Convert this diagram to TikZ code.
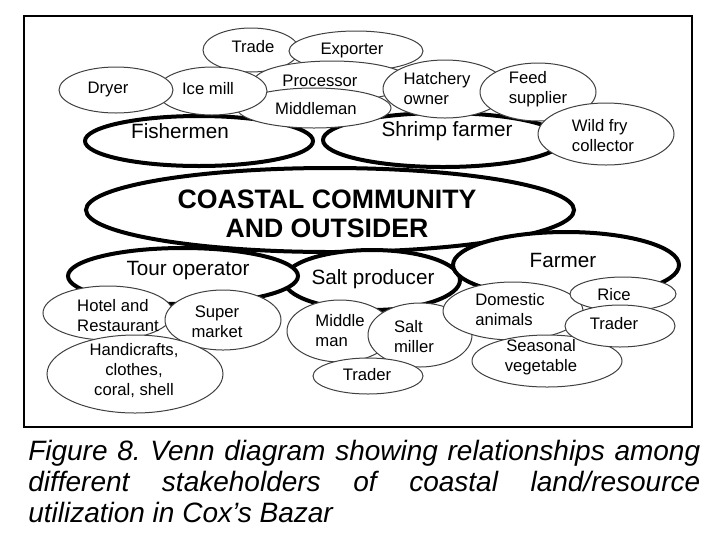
\documentclass[tikz,border=0pt]{standalone}
\usepackage{fontspec}
\setmainfont{Liberation Sans}
\frenchspacing

\begin{document}
\begin{tikzpicture}[x=0.75pt,y=0.75pt,yscale=-1,xscale=1,
  thickoval/.style={draw=black,fill=white,line width=3pt},
  thinoval/.style={draw=black!75,fill=white,line width=0.75pt},
  smalltext/.style={inner sep=0.75pt,font=\fontsize{12.5}{15}\selectfont},
  bigtext/.style={inner sep=0.75pt,font=\fontsize{15.5}{18}\selectfont}]
\useasboundingbox (0,0) rectangle (720,540);
%Shape: Rectangle [frame]
\draw [line width=1.5pt] (24,16) rectangle (692,427);

%Shape: Ellipse [coastal community]
\draw [thickoval] (330,210) ellipse (244 and 42);
%Shape: Ellipse [fishermen]
\draw [thickoval] (199,141) ellipse (114 and 25);
%Shape: Ellipse [shrimp farmer]
\draw [thickoval] (443,140) ellipse (120 and 27);
%Shape: Ellipse [salt producer]
\draw [thickoval] (372,280) ellipse (88 and 30);
%Shape: Ellipse [tour operator]
\draw [thickoval] (183,276) ellipse (115 and 28);
%Shape: Ellipse [farmer]
\draw [thickoval] (566,265) ellipse (113 and 33);

%Shape: Ellipse [fishermen group]
\draw [thinoval] (251,50) ellipse (48 and 22);
\draw [thinoval] (356,51) ellipse (67 and 20);
\draw [thinoval] (332,81) ellipse (78 and 20);
\draw [thinoval] (314,108) ellipse (77 and 20);
\draw [thinoval] (212,91) ellipse (55 and 24);
\draw [thinoval] (116,90) ellipse (57 and 23);
%Shape: Ellipse [shrimp group]
\draw [thinoval] (445,89) ellipse (62 and 29);
\draw [thinoval] (538,92) ellipse (58 and 29);
\draw [thinoval] (606,134) ellipse (68 and 31);
%Shape: Ellipse [tour group]
\draw [thinoval] (108,313) ellipse (65 and 27);
\draw [thinoval] (223,320) ellipse (58 and 30);
\draw [thinoval] (135,374) ellipse (88 and 39);
%Shape: Ellipse [salt group]
\draw [thinoval] (340,331) ellipse (53 and 31);
\draw [thinoval] (420,335) ellipse (52 and 32);
\draw [thinoval] (368,376) ellipse (55 and 18);
%Shape: Ellipse [farmer group]
\draw [thinoval] (513,311) ellipse (70 and 29);
\draw [thinoval] (547,361) ellipse (75 and 26);
\draw [thinoval] (623,294) ellipse (53 and 17);
\draw [thinoval] (620,326) ellipse (55 and 21);

% Text Node
\node [inner sep=0.75pt,align=center,font=\fontsize{20}{22}\selectfont\bfseries] (coastal) at (327,214) {COASTAL COMMUNITY\\AND OUTSIDER};
% Text Node
\node [bigtext] (fishermen) at (180,131) {Fishermen};
\node [bigtext] (shrimp) at (447,131) {Shrimp farmer};
\node [bigtext] (tour) at (188,271) {Tour operator};
\node [bigtext] (saltprod) at (373,279) {Salt producer};
\node [bigtext] (farmer) at (563,260) {Farmer};
% Text Node
\node [smalltext] (trade) at (253,47) {Trade};
\node [smalltext] (exporter) at (352,50) {Exporter};
\node [smalltext] (processor) at (320,81) {Processor};
\node [smalltext] (middleman) at (316,109) {Middleman};
\node [smalltext] (icemill) at (208,89) {Ice mill};
\node [smalltext] (dryer) at (108,89) {Dryer};
\node [smalltext,align=left] (hatchery) at (437,89) {Hatchery\\owner};
\node [smalltext,align=left] (feed) at (538,89) {Feed\\supplier};
\node [smalltext,align=left] (wildfry) at (603,136) {Wild fry\\collector};
% Text Node
\node [smalltext,align=left] (hotel) at (118,316) {Hotel and\\Restaurant};
\node [smalltext,align=center] (super) at (217,322) {Super\\market};
\node [smalltext,align=center] (handicraft) at (134,371) {Handicrafts,\\clothes,\\coral, shell};
\node [smalltext,align=left] (middle) at (340,331) {Middle\\man};
\node [smalltext,align=left] (miller) at (414,337) {Salt\\miller};
\node [smalltext] (saltrader) at (367,375) {Trader};
\node [smalltext,align=left] (domestic) at (510,310) {Domestic\\animals};
\node [smalltext,align=center] (seasonal) at (541,357) {Seasonal\\vegetable};
\node [smalltext] (rice) at (614,295) {Rice};
\node [smalltext] (farmtrader) at (614,324) {Trader};

% Text Node
\node [anchor=north west,inner sep=0pt,text width=504pt,align=justify,font=\fontsize{21}{23.25}\selectfont\itshape] (caption) at (28,440) {Figure 8. Venn diagram showing relationships among\linebreak different stakeholders of coastal land/resource\linebreak utilization in Cox's Bazar};

\end{tikzpicture}
\end{document}
